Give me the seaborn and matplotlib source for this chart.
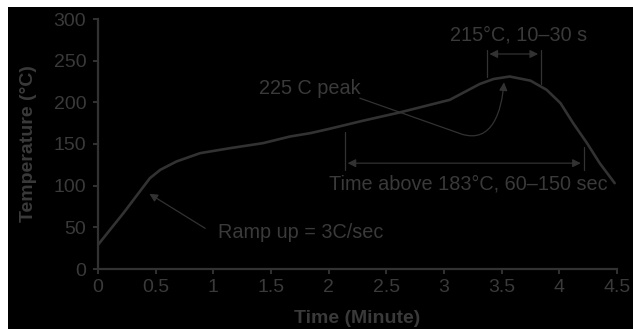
import matplotlib
matplotlib.use("Agg")
import matplotlib.pyplot as plt
import seaborn as sns
import pandas as pd
from matplotlib.patches import Rectangle, FancyArrowPatch
from matplotlib.path import Path

# ---- data ----
time_min = [0.0, 0.22, 0.45, 0.54, 0.68, 0.885, 1.145, 1.43, 1.665, 1.84, 2.0, 2.3, 2.62, 3.05,
            3.31, 3.43, 3.57, 3.75, 3.89, 4.01, 4.12, 4.24, 4.35, 4.48]
temp_c = [29, 67, 109, 119, 129, 139, 145, 151, 159, 163, 168, 178, 188, 203,
          222, 228, 231, 226, 215, 199, 175, 151, 127, 103]
x_ticks = [0, 0.5, 1, 1.5, 2, 2.5, 3, 3.5, 4, 4.5]
x_tick_labels = ["0", "0.5", "1", "1.5", "2", "2.5", "3", "3.5", "4", "4.5"]
y_ticks = [0, 50, 100, 150, 200, 250, 300]

df = pd.DataFrame({"Time": time_min, "Temp": temp_c})

sns.set_theme(style="ticks")
plt.rcParams["font.family"] = ["Liberation Sans", "DejaVu Sans"]

TXT = "#3a3a3a"
LN = "#323232"

fig = plt.figure(figsize=(6.33, 3.29), dpi=100, facecolor="white")
fig.add_artist(Rectangle((8 / 633, 0), 1, 1 - 7 / 329, transform=fig.transFigure,
                         facecolor="black", edgecolor="none", zorder=-10))
ax = fig.add_axes([98 / 633, 1 - 269 / 329, (617 - 98) / 633, (269 - 19) / 329])
ax.set_facecolor("none")

sns.lineplot(data=df, x="Time", y="Temp", ax=ax, color=LN, linewidth=1.9, sort=False)

ax.set_xlim(0, 4.5)
ax.set_ylim(0, 300)
ax.set_xticks(x_ticks)
ax.set_xticklabels(x_tick_labels)
ax.set_yticks(y_ticks)
for s in ["top", "right"]:
    ax.spines[s].set_visible(False)
for s in ["left", "bottom"]:
    ax.spines[s].set_color(LN)
    ax.spines[s].set_linewidth(1.6)
ax.tick_params(axis="both", colors=LN, labelcolor=TXT, labelsize=14,
               length=3.5, width=1.4, direction="out")
ax.tick_params(axis="x", pad=4)
ax.tick_params(axis="y", pad=5)

ax.set_xlabel("Time (Minute)", color=TXT, fontsize=14, fontweight="bold", labelpad=10)
ax.set_ylabel("Temperature (°C)", color=TXT, fontsize=14, fontweight="bold", labelpad=12)

fs = 14.3
# 215°C window
ax.text(3.65, 281, "215°C, 10–30 s", ha="center", va="center", color=TXT, fontsize=fs)
ax.plot([3.37, 3.37], [230, 263], color=LN, lw=0.9)
ax.plot([3.84, 3.84], [222, 263], color=LN, lw=0.9)
ax.annotate("", xy=(3.37, 258), xytext=(3.84, 258),
            arrowprops=dict(arrowstyle="<|-|>", color=LN, lw=0.9, mutation_scale=12))

# 225 C peak
ax.text(1.84, 216, "225 C peak", ha="center", va="center", color=TXT, fontsize=fs)
verts = [(2.27, 205), (3.15, 162), (3.42, 150), (3.50, 190), (3.52, 224)]
codes = [Path.MOVETO, Path.LINETO, Path.CURVE4, Path.CURVE4, Path.CURVE4]
pk = FancyArrowPatch(path=Path(verts, codes), arrowstyle="-|>", color=LN,
                     lw=0.9, mutation_scale=12, transform=ax.transData)
ax.add_patch(pk)

# Time above 183
ax.plot([2.14, 2.14], [119, 165], color=LN, lw=0.9)
ax.plot([4.21, 4.21], [119, 147], color=LN, lw=0.9)
ax.annotate("", xy=(2.14, 127), xytext=(4.21, 127),
            arrowprops=dict(arrowstyle="<|-|>", color=LN, lw=0.9, mutation_scale=12))
ax.text(3.21, 102, "Time above 183°C, 60–150 sec", ha="center", va="center",
        color=TXT, fontsize=fs)

# Ramp up
ax.text(1.04, 44, "Ramp up = 3C/sec", ha="left", va="center", color=TXT, fontsize=fs)
ax.annotate("", xy=(0.425, 92), xytext=(0.95, 47),
            arrowprops=dict(arrowstyle="-|>", color=LN, lw=0.9, mutation_scale=12))

fig.savefig("out.png", dpi=100, facecolor="white")
